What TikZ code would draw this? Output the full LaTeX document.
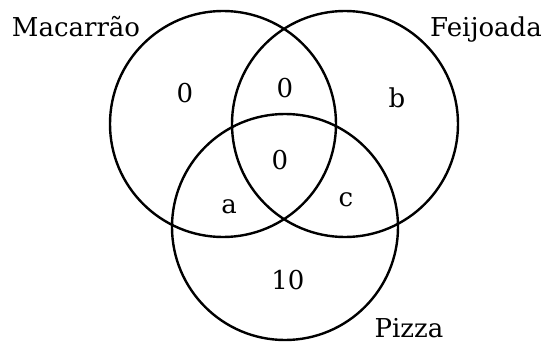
\documentclass[tikz,border=0pt]{standalone}
\usepackage{fontspec}
\setmainfont{DejaVu Serif}
\begin{document}
\begin{tikzpicture}[x=1pt,y=-1pt,
    himpunan/.style={draw, circle, line width=2.4pt, minimum size=226pt, inner sep=0pt},
    nama/.style={anchor=base, inner sep=0pt, font=\fontsize{26}{31}\selectfont},
    isi/.style={inner sep=0pt, font=\fontsize{26}{31}\selectfont}]
    \useasboundingbox (0,0) rectangle (546,342);

    % Lingkaran himpunan
    \node[himpunan] (macarrao) at (223,124) {};
    \node[himpunan] (feijoada) at (345,124) {};
    \node[himpunan] (pizza) at (285,227) {};

    % Nama himpunan
    \node[nama] (namaM) at (76,37) {Macarrão};
    \node[nama] (namaF) at (486,37) {Feijoada};
    \node[nama] (namaP) at (409,337) {Pizza};

    % Isi tiap daerah
    \node[isi] (hanyaM) at (185,93) {0};
    \node[isi] (irisanMF) at (285,88) {0};
    \node[isi] (hanyaF) at (397,98) {b};
    \node[isi] (irisanMFP) at (280,160) {0};
    \node[isi] (irisanMP) at (229,207) {a};
    \node[isi] (irisanFP) at (346,200) {c};
    \node[isi] (hanyaP) at (288,280) {10};
\end{tikzpicture}
\end{document}
